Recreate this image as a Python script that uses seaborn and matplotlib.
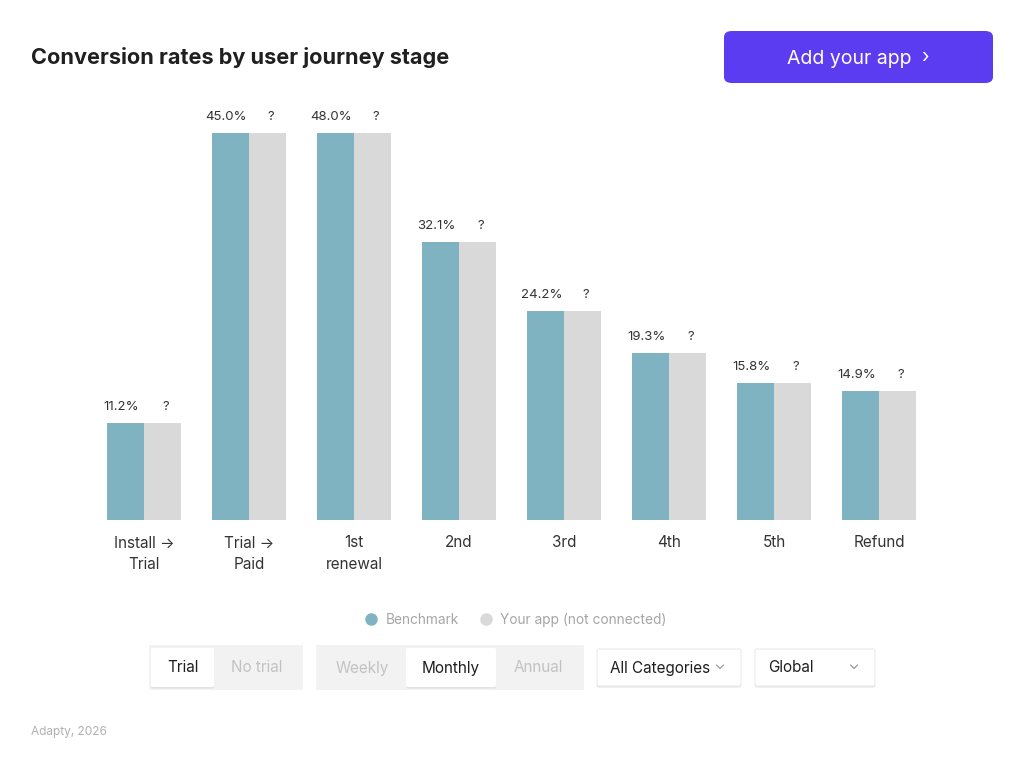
import pandas as pd
import matplotlib.pyplot as plt
import seaborn as sns
from matplotlib.patches import FancyBboxPatch
from matplotlib.lines import Line2D

# Dados do gráfico
stages = ['Install →\nTrial', 'Trial →\nPaid', '1st\nrenewal', '2nd', '3rd', '4th', '5th', 'Refund']
benchmark = [11.2, 45.0, 48.0, 32.1, 24.2, 19.3, 15.8, 14.9]
# a série "Your app" não está conectada: barras da mesma altura, rótulo "?"
your_app = [11.2, 45.0, 48.0, 32.1, 24.2, 19.3, 15.8, 14.9]
series_names = ['Benchmark', 'Your app (not connected)']
your_app_label = '?'

# Cores
cor_bench = '#80b3c2'
cor_app = '#d9d9d9'
cor_roxo = '#5b3cf0'
texto_escuro = '#1f1f1f'
texto_claro = '#b3b3b3'

W, H = 1024, 772

sns.set_style('white')
plt.rcParams['font.family'] = ['Inter', 'DejaVu Sans']

fig = plt.figure(figsize=(W / 100, H / 100), dpi=100)


def fx(x):
    return x / W


def fy(y):
    return 1 - y / H


# Eixo principal (posição em pixels convertida)
ax = fig.add_axes([fx(91.5), fy(520), 840 / W, 387 / H])

df = pd.DataFrame({
    'stage': stages * 2,
    'serie': [series_names[0]] * len(stages) + [series_names[1]] * len(stages),
    'valor': benchmark + your_app,
})

sns.barplot(data=df, x='stage', y='valor', hue='serie', order=stages,
            palette=[cor_bench, cor_app], width=0.7, saturation=1,
            errorbar=None, legend=False, linewidth=0, ax=ax)

ytop = 44.75
ax.set_ylim(0, ytop)
ax.set_xlim(-0.5, len(stages) - 0.5)
ax.set_xlabel('')
ax.set_ylabel('')
ax.set_yticks([])
sns.despine(ax=ax, left=True, bottom=True)
ax.tick_params(axis='x', length=0, pad=11, labelsize=11, labelcolor='#333333')
for lbl in ax.get_xticklabels():
    lbl.set_linespacing(1.55)

# Rótulos de valor acima das barras
n = len(stages)
for i, patch in enumerate(ax.patches[:2 * n]):
    cx = patch.get_x() + patch.get_width() / 2
    h = min(patch.get_height(), ytop)
    if i < n:
        txt = f'{benchmark[i]:.1f}%'
        cx -= 0.04
    else:
        txt = your_app_label
        cx += 0.03
    ax.annotate(txt, (cx, h), xytext=(0, 11.5), textcoords='offset points',
                ha='center', va='center', fontsize=9.5, color='#333333',
                annotation_clip=False)

# Título
fig.text(fx(31), fy(57), 'Conversion rates by user journey stage',
         fontsize=15.6, fontweight='bold', color=texto_escuro, va='center')

# Botão "Add your app"
def caixa(x0, y0, x1, y1, fc, ec='none', r=6, z=1, sombra=False):
    if sombra:
        fig.patches.append(FancyBboxPatch(
            (fx(x0), fy(y1 + 1.5)), (x1 - x0) / W, (y1 - y0) / H,
            boxstyle=f'round,pad=0,rounding_size={r / W}', fc='#e2e2e2', ec='none',
            transform=fig.transFigure, zorder=z - 0.1))
    fig.patches.append(FancyBboxPatch(
        (fx(x0), fy(y1)), (x1 - x0) / W, (y1 - y0) / H,
        boxstyle=f'round,pad=0,rounding_size={r / W}', fc=fc, ec=ec, lw=0.8,
        transform=fig.transFigure, zorder=z))


caixa(724, 31, 993, 83, cor_roxo, r=8)
fig.text(fx(849), fy(58.5), 'Add your app', fontsize=14, color='white',
         ha='center', va='center')
fig.text(fx(925), fy(58), '›', fontsize=14, color='white', ha='center', va='center')

# Legenda
handles = [Line2D([], [], marker='o', ls='', ms=8, mfc=c, mec=c) for c in (cor_bench, cor_app)]
fig.legend(handles, series_names, loc='center', bbox_to_anchor=(0.5, fy(620)),
           ncol=2, frameon=False, fontsize=9.9, labelcolor='#a6a6a6',
           handletextpad=0.05, columnspacing=1.0)

# Controles (segmentos e menus)
caixa(149, 645, 303, 690, '#f2f2f2', r=2)
caixa(151, 648, 214, 687, 'white', r=2, z=2, sombra=True)
fig.text(fx(183), fy(668), 'Trial', fontsize=11, color=texto_escuro, ha='center', va='center')
fig.text(fx(257), fy(668), 'No trial', fontsize=11, color='#c2c2c2', ha='center', va='center')

caixa(316, 645, 584, 690, '#f2f2f2', r=2)
caixa(406, 648, 496, 687, 'white', r=2, z=2, sombra=True)
fig.text(fx(362), fy(668), 'Weekly', fontsize=11, color='#c2c2c2', ha='center', va='center')
fig.text(fx(451), fy(668), 'Monthly', fontsize=11, color=texto_escuro, ha='center', va='center')
fig.text(fx(538), fy(668), 'Annual', fontsize=11, color='#c2c2c2', ha='center', va='center')


def chevron(x, y):
    fig.add_artist(Line2D([fx(x - 3.5), fx(x), fx(x + 3.5)], [fy(y - 2), fy(y + 1.5), fy(y - 2)],
                          color='#9a9a9a', lw=0.9, transform=fig.transFigure))


caixa(597, 649, 741, 686, 'white', ec='#ebebeb', r=2, sombra=True)
fig.text(fx(610), fy(668), 'All Categories', fontsize=11, color=texto_escuro, va='center')
chevron(720, 667)

caixa(755, 649, 875, 686, 'white', ec='#ebebeb', r=2, sombra=True)
fig.text(fx(768), fy(668), 'Global', fontsize=11, color=texto_escuro, va='center')
chevron(854, 667)

# Rodapé
fig.text(fx(31), fy(732), 'Adapty, 2026', fontsize=8.5, color='#b0b0b0', va='center')

fig.savefig('out.png', dpi=100, facecolor='white')
